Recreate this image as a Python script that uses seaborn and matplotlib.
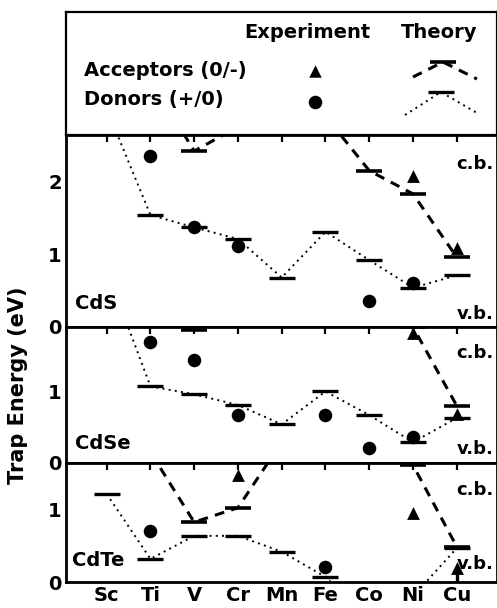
#!/usr/bin/env python3
"""
Trap energies of 3d transition metal impurities in CdS, CdSe and CdTe:
experiment (symbols) against theory (bars joined by lines).
"""

import matplotlib

matplotlib.use("Agg")
import matplotlib.pyplot as plt
import numpy as np
import pandas as pd
import seaborn as sns

NAN = float("nan")

ELEMENTS = ["Sc", "Ti", "V", "Cr", "Mn", "Fe", "Co", "Ni", "Cu"]

# Levels in eV above the valence band. Theory values outside the gap are kept
# so the connecting lines run off the panel like in the original figure.
CDS_DONOR_TH = [3.00, 1.54, 1.37, 1.21, 0.68, 1.31, 0.92, 0.54, 0.71]
CDS_ACCEPTOR_TH = [3.90, 3.40, 2.42, 2.75, 3.00, 2.90, 2.15, 1.83, 0.96]
CDS_DONOR_EXP = [NAN, 2.35, 1.37, 1.11, NAN, NAN, 0.36, 0.61, NAN]
CDS_ACCEPTOR_EXP = [NAN, NAN, NAN, NAN, NAN, NAN, NAN, 2.08, 1.09]
CDS_GAP = 2.64

CDSE_DONOR_TH = [2.70, 1.07, 0.96, 0.81, 0.54, 1.00, 0.67, 0.29, 0.63]
CDSE_ACCEPTOR_TH = [3.00, 2.40, 1.86, 2.40, 2.60, 2.50, 2.30, 1.90, 0.80]
CDSE_DONOR_EXP = [NAN, 1.69, 1.44, 0.67, NAN, 0.67, 0.21, 0.36, NAN]
CDSE_ACCEPTOR_EXP = [NAN, NAN, NAN, NAN, NAN, NAN, NAN, 1.82, 0.69]
CDSE_GAP = 1.90

CDTE_DONOR_TH = [1.22, 0.32, 0.64, 0.64, 0.42, 0.07, -0.50, -0.20, 0.47]
CDTE_ACCEPTOR_TH = [2.50, 1.80, 0.83, 1.03, 1.94, 2.20, 2.00, 1.62, 0.49]
CDTE_DONOR_EXP = [NAN, 0.71, NAN, NAN, NAN, 0.21, NAN, NAN, NAN]
CDTE_ACCEPTOR_EXP = [NAN, NAN, NAN, 1.49, NAN, NAN, NAN, 0.96, 0.20]
CDTE_GAP = 1.65
CDTE_UPPER_LIMIT = ["Cu"]  # drawn as an arrow up from the v.b.

# layout in pixels of the 497x608 figure
FIG_W, FIG_H = 497, 608
X_LEFT, X_RIGHT = 66, 497
LEGEND_TOP = 12
ROW_EDGES = [135, 327, 463, 582]

FONT = 14
DOT_STYLE = (0, (1, 2.2))
DASH_STYLE = (0, (3.2, 2.4))

sns.set_style("white")
plt.rcParams["font.family"] = ["DejaVu Sans"]
plt.rcParams["font.weight"] = "bold"
for key in ["text.color", "axes.labelcolor", "xtick.color", "ytick.color"]:
    plt.rcParams[key] = "black"


def box(top, bottom):
    return [
        X_LEFT / FIG_W,
        1 - bottom / FIG_H,
        (X_RIGHT - X_LEFT) / FIG_W,
        (bottom - top) / FIG_H,
    ]


def draw_legend(ax):
    ax.set_xlim(X_LEFT, X_RIGHT)
    ax.set_ylim(ROW_EDGES[0], LEGEND_TOP)
    ax.set_xticks([])
    ax.set_yticks([])
    for spine in ax.spines.values():
        spine.set_linewidth(1.6)
        spine.set_color("black")

    ax.text(307, 33, "Experiment", ha="center", va="center", fontsize=FONT)
    ax.text(439, 33, "Theory", ha="center", va="center", fontsize=FONT)
    ax.text(84, 71, "Acceptors (0/-)", ha="left", va="center", fontsize=FONT)
    ax.text(84, 99, "Donors (+/0)", ha="left", va="center", fontsize=FONT)

    sns.scatterplot(x=[315], y=[71], marker="^", s=80, color="black",
                    edgecolor="black", linewidth=0, ax=ax)
    sns.scatterplot(x=[315], y=[102], marker="o", s=95, color="black",
                    edgecolor="black", linewidth=0, ax=ax)

    ax.plot([413, 443, 477], [77, 62, 79], color="black", linewidth=2.2,
            linestyle=DASH_STYLE, marker="_", markevery=[1], markersize=19,
            markeredgewidth=2.6)
    ax.plot([405, 441, 477], [115, 92, 113], color="black", linewidth=1.4,
            linestyle=DOT_STYLE, marker="_", markevery=[1], markersize=19,
            markeredgewidth=2.4)


def draw_panel(ax, name, donor_th, acceptor_th, donor_exp, acceptor_exp,
               gap, label_pos, cb_y, vb_y, show_x=False, upper_limit=()):
    df = pd.DataFrame({
        "pos": np.arange(len(ELEMENTS)),
        "element": ELEMENTS,
        "donor_th": donor_th,
        "acceptor_th": acceptor_th,
        "donor_exp": donor_exp,
        "acceptor_exp": acceptor_exp,
    })

    sns.lineplot(data=df, x="pos", y="donor_th", ax=ax, color="black",
                 linewidth=1.4, linestyle=DOT_STYLE, marker="_",
                 markersize=19, markeredgewidth=2.4, markeredgecolor="black",
                 sort=False, errorbar=None)
    sns.lineplot(data=df, x="pos", y="acceptor_th", ax=ax, color="black",
                 linewidth=2.2, linestyle=DASH_STYLE, marker="_",
                 markersize=19, markeredgewidth=2.6, markeredgecolor="black",
                 sort=False, errorbar=None)
    sns.scatterplot(data=df, x="pos", y="donor_exp", ax=ax, marker="o",
                    s=95, color="black", edgecolor="black", linewidth=0)
    sns.scatterplot(data=df, x="pos", y="acceptor_exp", ax=ax, marker="^",
                    s=85, color="black", edgecolor="black", linewidth=0)

    # experimental upper limits: arrow stem from the valence band
    lim = df[df["element"].isin(upper_limit)]
    if not lim.empty:
        ax.vlines(lim["pos"], 0, lim["acceptor_exp"], color="black",
                  linewidth=2.4)

    ax.set_xlim(-0.93, 8.92)
    ax.set_ylim(0, gap)
    ax.set_xticks(df["pos"])
    ax.set_xticklabels(ELEMENTS if show_x else [])
    yt = np.arange(0, gap, 0.5)
    ax.set_yticks(yt)
    ax.set_yticklabels([str(int(v)) if v == int(v) else "" for v in yt])
    ax.tick_params(direction="in", length=5, width=1.6, top=True,
                   labelsize=FONT, pad=3)
    ax.set_xlabel("")
    ax.set_ylabel("")
    for spine in ax.spines.values():
        spine.set_linewidth(2.0)
        spine.set_color("black")

    ax.text(*label_pos, name, transform=ax.transAxes, ha="left",
            va="center", fontsize=FONT)
    ax.text(0.993, cb_y, "c.b.", transform=ax.transAxes, ha="right",
            va="center", fontsize=FONT - 1)
    ax.text(0.993, vb_y, "v.b.", transform=ax.transAxes, ha="right",
            va="center", fontsize=FONT - 1)


def main() -> None:
    fig = plt.figure(figsize=(FIG_W / 100, FIG_H / 100), dpi=100)

    ax_leg = fig.add_axes(box(LEGEND_TOP, ROW_EDGES[0]))
    draw_legend(ax_leg)

    ax_s = fig.add_axes(box(ROW_EDGES[0], ROW_EDGES[1]))
    draw_panel(ax_s, "CdS", CDS_DONOR_TH, CDS_ACCEPTOR_TH, CDS_DONOR_EXP,
               CDS_ACCEPTOR_EXP, CDS_GAP, (0.02, 0.12), 0.85, 0.07)

    ax_se = fig.add_axes(box(ROW_EDGES[1], ROW_EDGES[2]))
    draw_panel(ax_se, "CdSe", CDSE_DONOR_TH, CDSE_ACCEPTOR_TH,
               CDSE_DONOR_EXP, CDSE_ACCEPTOR_EXP, CDSE_GAP, (0.02, 0.14),
               0.81, 0.10)

    ax_te = fig.add_axes(box(ROW_EDGES[2], ROW_EDGES[3]))
    draw_panel(ax_te, "CdTe", CDTE_DONOR_TH, CDTE_ACCEPTOR_TH,
               CDTE_DONOR_EXP, CDTE_ACCEPTOR_EXP, CDTE_GAP, (0.015, 0.18),
               0.77, 0.15, show_x=True, upper_limit=CDTE_UPPER_LIMIT)

    fig.text(18 / FIG_W, 1 - 385 / FIG_H, "Trap Energy (eV)", rotation=90,
             ha="center", va="center", fontsize=FONT + 1)

    fig.savefig("out.png", dpi=100)
    plt.close(fig)


if __name__ == "__main__":
    main()
